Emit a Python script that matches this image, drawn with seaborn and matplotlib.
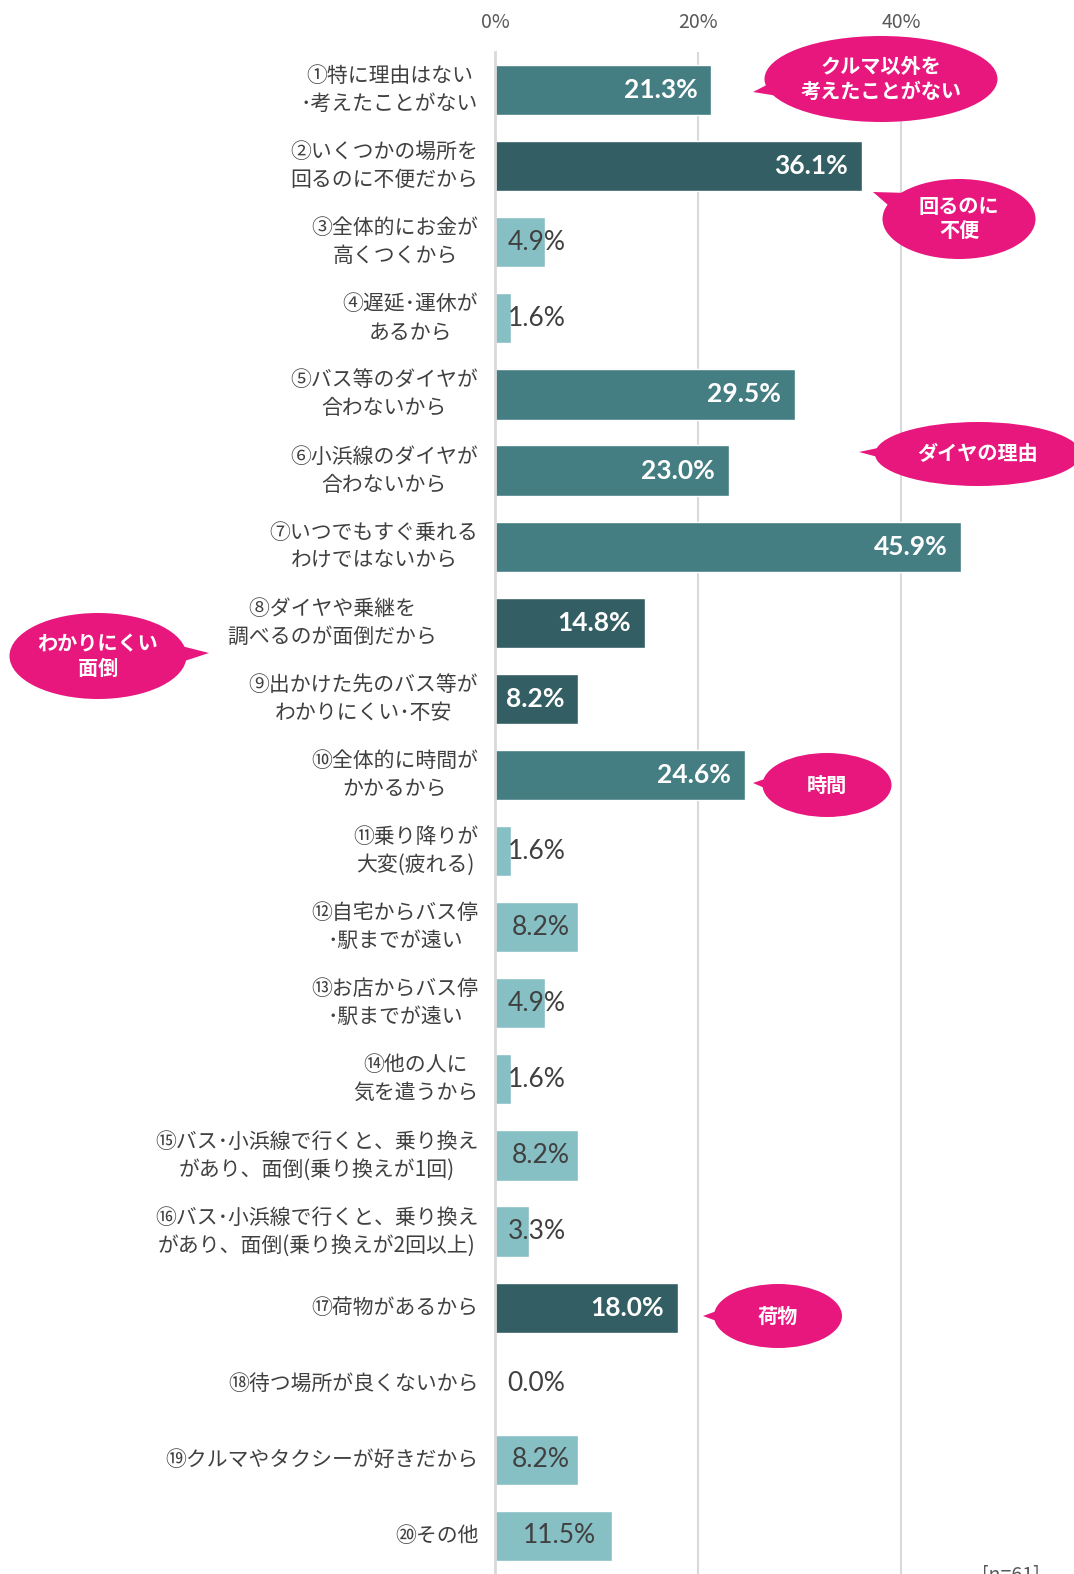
import matplotlib
matplotlib.use("Agg")
import matplotlib.pyplot as plt
import seaborn as sns
import numpy as np
import pandas as pd
from matplotlib.patches import Ellipse, Polygon

# ---- data -------------------------------------------------------------
reasons = [
    "①特に理由はない\n･考えたことがない",
    "②いくつかの場所を\n回るのに不便だから",
    "③全体的にお金が\n高くつくから",
    "④遅延･運休が\nあるから",
    "⑤バス等のダイヤが\n合わないから",
    "⑥小浜線のダイヤが\n合わないから",
    "⑦いつでもすぐ乗れる\nわけではないから",
    "⑧ダイヤや乗継を\u3000\u3000\n調べるのが面倒だから\u3000\u3000",
    "⑨出かけた先のバス等が\nわかりにくい･不安",
    "⑩全体的に時間が\nかかるから",
    "⑪乗り降りが\n大変(疲れる)",
    "⑫自宅からバス停\n･駅までが遠い",
    "⑬お店からバス停\n･駅までが遠い",
    "⑭他の人に\n気を遣うから",
    "⑮バス･小浜線で行くと、乗り換え\nがあり、面倒(乗り換えが1回)",
    "⑯バス･小浜線で行くと、乗り換え\nがあり、面倒(乗り換えが2回以上)",
    "⑰荷物があるから",
    "⑱待つ場所が良くないから",
    "⑲クルマやタクシーが好きだから",
    "⑳その他",
]
shares = [21.3, 36.1, 4.9, 1.6, 29.5, 23.0, 45.9, 14.8, 8.2, 24.6,
          1.6, 8.2, 4.9, 1.6, 8.2, 3.3, 18.0, 0.0, 8.2, 11.5]
tones = ["mid", "dark", "light", "light", "mid", "mid", "mid", "dark", "dark", "mid",
         "light", "light", "light", "light", "light", "light", "dark", "light", "light", "light"]
x_ticks = [0, 20, 40]
x_tick_labels = ["0%", "20%", "40%"]
callout_texts = ["クルマ以外を\n考えたことがない", "回るのに\n不便", "ダイヤの理由",
                 "わかりにくい\n面倒", "時間", "荷物"]
sample_note = "[n=61]"

# ---- style ------------------------------------------------------------
tone_colors = {"mid": "#447E83", "dark": "#335E63", "light": "#86BFC4"}
PINK = "#E8177E"
GRID = "#D9D9D9"
TEXT = "#404040"

sns.set_style("white")
plt.rcParams["font.family"] = ["Noto Sans CJK JP", "DejaVu Sans"]

W, H = 1074, 1574
fig = plt.figure(figsize=(W / 100, H / 100), dpi=100)
ax = fig.add_axes([495 / W, 0.0, 579 / W, 1 - 52 / H])

df = pd.DataFrame({"reason": reasons, "share": shares, "tone": tones})
sns.barplot(data=df, x="share", y="reason", hue="tone", palette=tone_colors,
            orient="h", width=0.66, dodge=False, legend=False, ax=ax,
            saturation=1.0)

ax.set_xlim(0, 57)
ax.set_ylim(19.5, -0.5)
ax.set_xlabel("")
ax.set_ylabel("")

# x axis on top, light vertical grid
ax.xaxis.tick_top()
ax.set_xticks(x_ticks)
ax.set_xticklabels(x_tick_labels, fontsize=14, color="#595959")
ax.tick_params(axis="x", length=0, pad=14)
for xv in x_ticks[1:]:
    ax.axvline(xv, color=GRID, lw=1.5, zorder=0)
for side in ["top", "right", "bottom"]:
    ax.spines[side].set_visible(False)
ax.spines["left"].set_color(GRID)
ax.spines["left"].set_linewidth(2)
ax.spines["left"].set_zorder(3)

# category labels
ax.set_yticks(range(len(reasons)))
ax.set_yticklabels(reasons, fontsize=15, color=TEXT, linespacing=1.35,
                   multialignment="center")
for lab in ax.get_yticklabels():
    lab.set_verticalalignment("center")
ax.tick_params(axis="y", length=0, pad=12)

# value labels
for i, (v, t) in enumerate(zip(shares, tones)):
    label = f"{v:.1f}%"
    if t == "light":
        ax.text(max(0.55 * v, 4.1), i, label, ha="center", va="center",
                fontsize=19, color=TEXT, family=["Lato", "DejaVu Sans"], zorder=4)
    else:
        ax.annotate(label, xy=(v, i), xytext=(-14, 0), textcoords="offset pixels",
                    ha="right", va="center", fontsize=19, fontweight="bold",
                    color="white", family=["Lato", "DejaVu Sans"], zorder=4)

# speech-bubble callouts (figure pixel space)
ov = fig.add_axes([0, 0, 1, 1], zorder=5)
ov.set_xlim(0, W)
ov.set_ylim(H, 0)
ov.axis("off")
ov.patch.set_alpha(0)

bubbles = [
    # (center x, center y, width, height, tip x, tip y)
    (881, 79, 233, 86, 753, 92),
    (959, 219, 153, 80, 873, 192),
    (978, 454, 206, 64, 859, 452),
    (98, 656, 177, 86, 209, 653),
    (827, 785, 129, 64, 753, 783),
    (778, 1316, 128, 64, 703, 1316),
]


def bubble(cx, cy, w, h, tx, ty, text):
    ov.add_patch(Ellipse((cx, cy), w, h, facecolor=PINK, edgecolor="none"))
    a = np.arctan2((ty - cy) / (h / 2), (tx - cx) / (w / 2))
    pts = [(tx, ty)]
    for d in (-0.32, 0.32):
        pts.append((cx + 0.85 * (w / 2) * np.cos(a + d),
                    cy + 0.85 * (h / 2) * np.sin(a + d)))
    ov.add_patch(Polygon(pts, closed=True, facecolor=PINK, edgecolor="none"))
    ov.text(cx, cy, text, ha="center", va="center", fontsize=14.5,
            fontweight="bold", color="white", linespacing=1.2)


for (cx, cy, w, h, tx, ty), txt in zip(bubbles, callout_texts):
    bubble(cx, cy, w, h, tx, ty, txt)

fig.text(1040 / W, 1 - 1564 / H, sample_note, ha="right", va="top",
         fontsize=14, color="#595959")

fig.savefig("out.png", dpi=100)
